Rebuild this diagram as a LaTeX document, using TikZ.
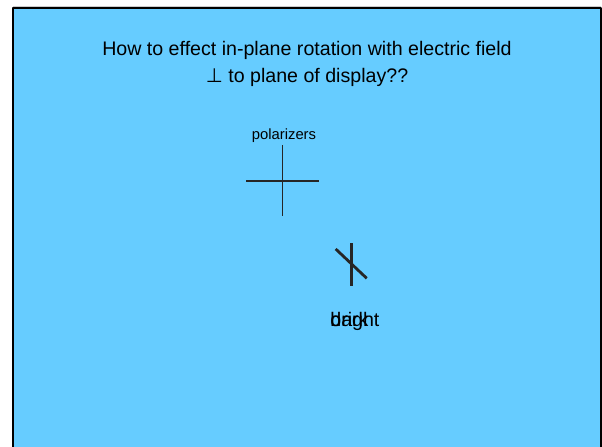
\documentclass[tikz,border=0pt]{standalone}
\usepackage{fontspec}
\setmainfont{Liberation Sans}
\newfontfamily\perpfont{DejaVu Sans}
\usepackage{tikz}
\usetikzlibrary{calc}

\definecolor{slideblue}{RGB}{102,204,255}

\begin{document}
\begin{tikzpicture}[x=0.5bp, y=-0.5bp, line join=round,
    title/.style={inner sep=0pt, anchor=base, font=\fontsize{9.84pt}{13.5bp}\selectfont},
    small/.style={inner sep=0pt, anchor=base, font=\fontsize{7.43pt}{9bp}\selectfont},
    label/.style={inner sep=0pt, anchor=base west, font=\fontsize{9.84pt}{13.5bp}\selectfont}]

    % Page and slide corners
    \coordinate (P0) at (0,0);
    \coordinate (P1) at (602,447);
    \coordinate (S0) at (13,8);
    \coordinate (S1) at (600.5,470);

    \useasboundingbox (P0) rectangle (P1);
    \fill[white] (P0) rectangle (P1);

    % 1. The slide itself (runs off the bottom edge)
    \draw[gray!40, line width=0.6bp] (13,6.5) -- (601,6.5);
    \filldraw[fill=slideblue, draw=black, line width=1bp] (S0) rectangle (S1);

    % 2. Title
    \node[title] (T1) at (307,56) {How to effect in-plane rotation with electric field};
    \node[title] (T2) at (307,83) {{\perpfont ⊥} to plane of display??};

    % 3. Crossed polarizers
    \coordinate (VT) at (282.3,145);
    \coordinate (VB) at (282.3,216.5);
    \coordinate (HL) at (246,180.7);
    \coordinate (HR) at (318.5,180.7);
    \node[small] (pol) at (284,140) {polarizers};
    \draw[line width=0.6bp, black!85] (VT) -- (VB);
    \draw[line width=0.9bp, black!85] (HL) -- (HR);

    % 4. Rotated pair
    \coordinate (RT) at (351.7,243.3);
    \coordinate (RB) at (351.7,286.5);
    \coordinate (DA) at (335.7,249);
    \coordinate (DB) at (366.7,278.3);
    \draw[line width=1.4bp, black!85] (RT) -- (RB);
    \draw[line width=1.4bp, black!85] (DA) -- (DB);

    % 5. Overlapping state labels
    \node[label] (bright) at (330,327) {bright};
    \node[label] (dark) at (330,327) {dark};

\end{tikzpicture}
\end{document}
